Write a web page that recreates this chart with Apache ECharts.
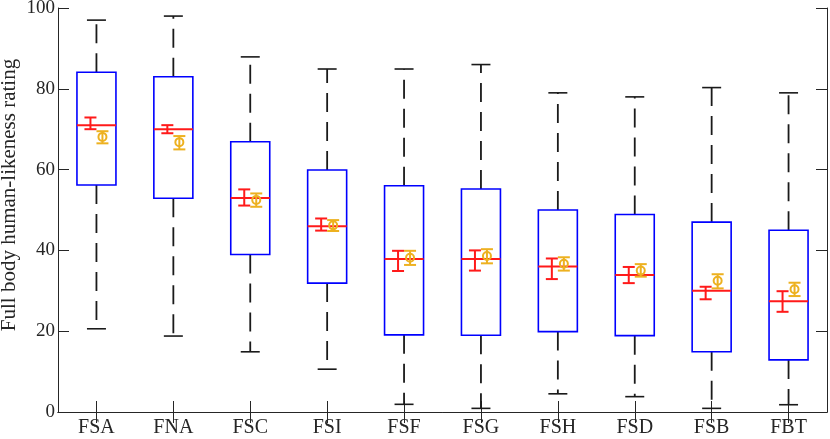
<!DOCTYPE html>
<html lang="en">
<head>
    <meta charset="UTF-8">
    <title>Full body human-likeness rating</title>
    <script src="https://cdn.jsdelivr.net/npm/echarts@6/dist/echarts.min.js"></script>
    <style>
        html, body { margin: 0; padding: 0; background: #fff; }
    </style>
</head>
<body>
<div id="main" style="width: 830px;height:439px;"></div>

<script type="text/javascript">
    // categories and box statistics
    var categories = ['FSA', 'FNA', 'FSC', 'FSI', 'FSF', 'FSG', 'FSH', 'FSD', 'FSB', 'FBT'];
    var lowerWhisker = [20.6, 18.8, 14.9, 10.6, 1.9, 0.9, 4.5, 3.8, 0.9, 1.8];
    var q1 = [56.2, 52.9, 39, 31.9, 19.1, 19, 19.9, 18.9, 14.9, 12.9];
    var median = [71, 70, 53, 46, 37.9, 37.9, 36, 33.9, 30, 27.4];
    var q3 = [84.1, 83, 66.9, 59.9, 56, 55.2, 50, 48.9, 47, 45];
    var upperWhisker = [97, 98, 87.9, 84.9, 84.9, 86, 79, 78, 80.3, 79];
    // red error bar (median interval)
    var redLow = [70, 69, 51.1, 44.9, 34.9, 35, 32.9, 31.9, 27.9, 24.8];
    var redHigh = [72.9, 71, 55.1, 47.9, 39.9, 40, 38, 35.9, 31, 29.9];
    // orange marker with error bar (mean)
    var meanVal = [68.1, 66.8, 52.5, 46.2, 38.2, 38.6, 36.7, 35, 32.5, 30.4];
    var meanLow = [66.5, 65, 50.8, 44.8, 36.4, 36.8, 35, 33.5, 30.6, 28.7];
    var meanHigh = [69.5, 68.3, 54.1, 47.5, 39.9, 40.3, 38.3, 36.6, 34.1, 32];
    var yTicks = [0, 20, 40, 60, 80, 100];

    var seriesData = categories.map(function (c, i) {
        return [i, lowerWhisker[i], q1[i], median[i], q3[i], upperWhisker[i],
            redLow[i], redHigh[i], meanVal[i], meanLow[i], meanHigh[i]];
    });

    var font = 'Liberation Serif, serif';
    var textColor = '#262626';

    function renderBox(params, api) {
        var i = api.value(0);
        var p = function (v) { return api.coord([i, v]); };
        var cx = p(0)[0];
        var hw = 19.5, capHw = 9.5, ebHw = 6, off = 6;
        var yLw = p(api.value(1))[1], yQ1 = p(api.value(2))[1], yMed = p(api.value(3))[1];
        var yQ3 = p(api.value(4))[1], yUw = p(api.value(5))[1];
        var yRl = p(api.value(6))[1], yRh = p(api.value(7))[1];
        var yM = p(api.value(8))[1], yMl = p(api.value(9))[1], yMh = p(api.value(10))[1];
        var blk = {stroke: '#1a1a1a', lineWidth: 1.8, lineDash: [19, 10]};
        var cap = {stroke: '#1a1a1a', lineWidth: 1.6};
        var red = {stroke: '#ff1a1a', lineWidth: 2};
        var org = {stroke: '#edb120', lineWidth: 2, fill: 'none'};
        var rx = cx - off, ox = cx + off;
        return {
            type: 'group',
            children: [
                {type: 'line', shape: {x1: cx, y1: yQ3, x2: cx, y2: yUw}, style: blk},
                {type: 'line', shape: {x1: cx, y1: yQ1, x2: cx, y2: yLw}, style: blk},
                {type: 'line', shape: {x1: cx - capHw, y1: yUw, x2: cx + capHw, y2: yUw}, style: cap},
                {type: 'line', shape: {x1: cx - capHw, y1: yLw, x2: cx + capHw, y2: yLw}, style: cap},
                {type: 'rect', shape: {x: cx - hw, y: yQ3, width: hw * 2, height: yQ1 - yQ3},
                    style: {stroke: '#0000ff', lineWidth: 1.6, fill: 'none'}},
                {type: 'line', shape: {x1: cx - hw, y1: yMed, x2: cx + hw, y2: yMed}, style: red},
                {type: 'line', shape: {x1: rx, y1: yRl, x2: rx, y2: yRh}, style: red},
                {type: 'line', shape: {x1: rx - ebHw, y1: yRl, x2: rx + ebHw, y2: yRl}, style: red},
                {type: 'line', shape: {x1: rx - ebHw, y1: yRh, x2: rx + ebHw, y2: yRh}, style: red},
                {type: 'line', shape: {x1: ox, y1: yMl, x2: ox, y2: yMh}, style: org},
                {type: 'line', shape: {x1: ox - ebHw, y1: yMl, x2: ox + ebHw, y2: yMl}, style: org},
                {type: 'line', shape: {x1: ox - ebHw, y1: yMh, x2: ox + ebHw, y2: yMh}, style: org},
                {type: 'circle', shape: {cx: ox, cy: yM, r: 4}, style: org}
            ]
        };
    }

    var myChart = echarts.init(document.getElementById('main'));
    var tickStyle = {show: true, inside: true, length: 11, alignWithLabel: true, lineStyle: {color: textColor, width: 1}};
    var option = {
        animation: false,
        grid: {left: 58, right: 3, top: 8, bottom: 27, outerBoundsMode: 'none', containLabel: false},
        xAxis: [
            {
                type: 'category',
                data: categories,
                boundaryGap: true,
                axisLine: {lineStyle: {color: textColor, width: 1}},
                axisTick: tickStyle,
                axisLabel: {color: textColor, fontFamily: font, fontSize: 20, margin: 6}
            },
            {
                type: 'category',
                position: 'top',
                data: categories,
                boundaryGap: true,
                axisLine: {lineStyle: {color: textColor, width: 1}},
                axisTick: tickStyle,
                axisLabel: {show: false}
            }
        ],
        yAxis: [
            {
                type: 'value',
                min: yTicks[0],
                max: yTicks[yTicks.length - 1],
                interval: 20,
                name: 'Full body human-likeness rating',
                nameLocation: 'middle',
                nameGap: 38,
                nameMoveOverlap: false,
                nameTextStyle: {color: textColor, fontFamily: font, fontSize: 21, padding: [0, 0, 0, 30]},
                axisLine: {show: true, lineStyle: {color: textColor, width: 1}},
                axisTick: {show: true, inside: true, length: 11, lineStyle: {color: textColor}},
                axisLabel: {color: textColor, fontFamily: font, fontSize: 19, margin: 3},
                splitLine: {show: false}
            },
            {
                type: 'value',
                position: 'right',
                min: yTicks[0],
                max: yTicks[yTicks.length - 1],
                interval: 20,
                axisLine: {show: true, lineStyle: {color: textColor, width: 1}},
                axisTick: {show: true, inside: true, length: 11, lineStyle: {color: textColor}},
                axisLabel: {show: false},
                splitLine: {show: false}
            }
        ],
        series: [
            {
                type: 'custom',
                renderItem: renderBox,
                data: seriesData,
                encode: {x: 0, y: [1, 5]},
                z: 3
            }
        ]
    };

    myChart.setOption(option);
</script>
</body>
</html>
